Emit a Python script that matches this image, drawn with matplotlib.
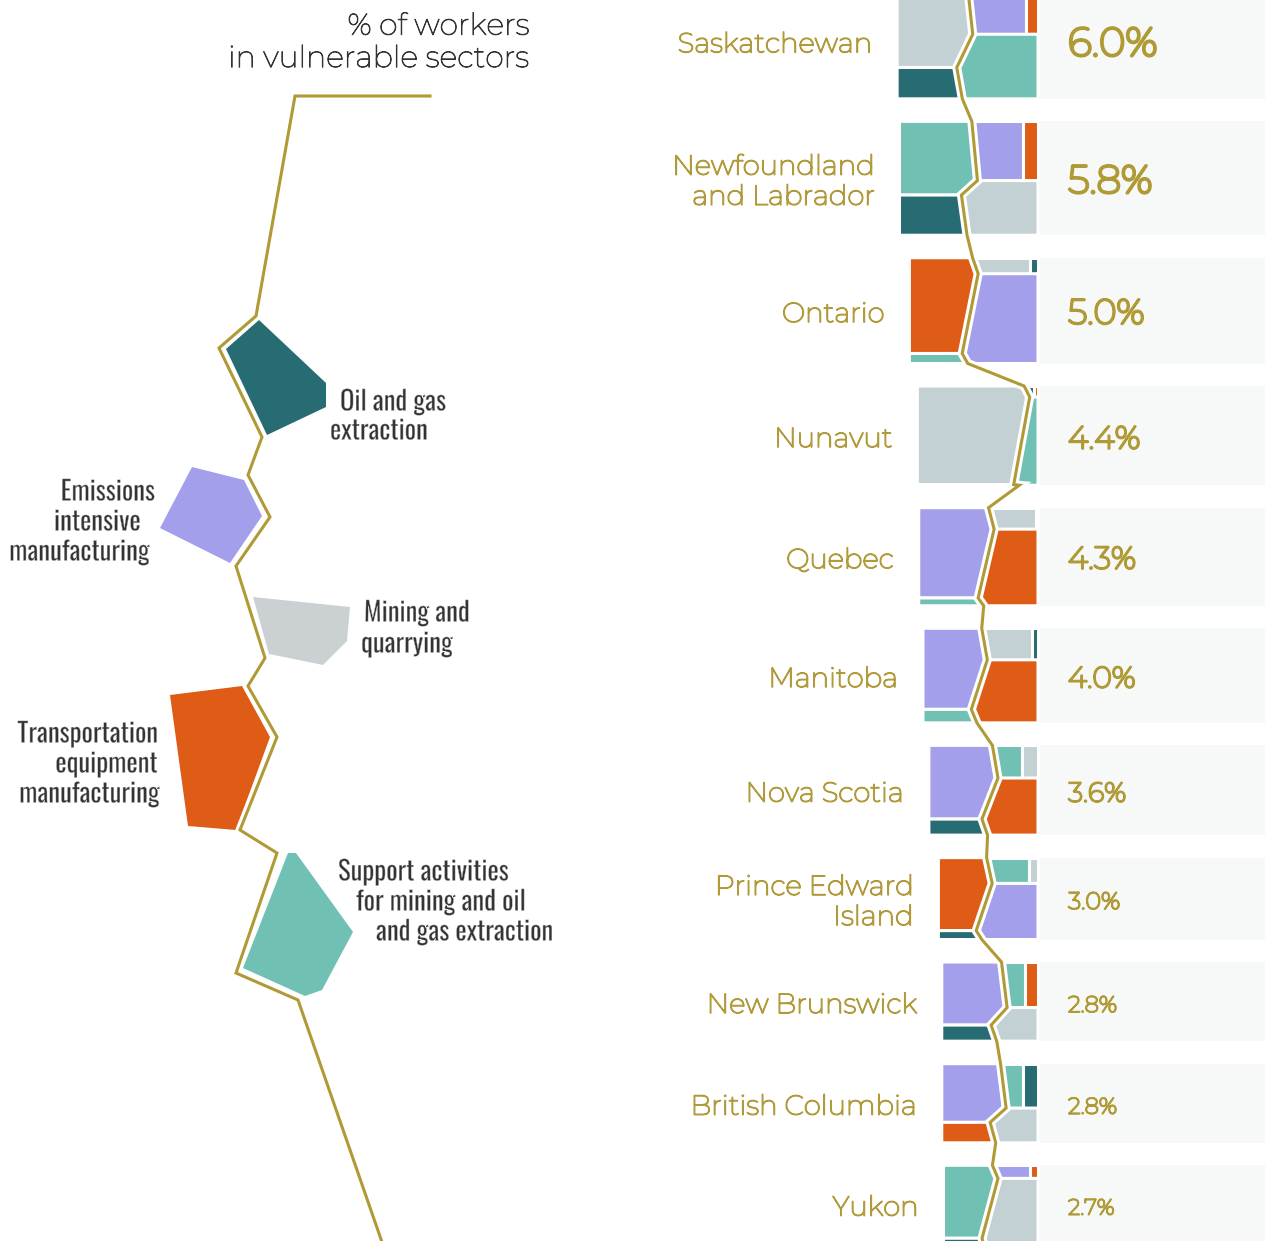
import numpy as np
import matplotlib
matplotlib.use('Agg')
import matplotlib.pyplot as plt
from matplotlib.patches import Polygon
from matplotlib import font_manager
from matplotlib.font_manager import FontProperties
import matplotlib.patheffects as pe

# ---- data -------------------------------------------------------------
provinces = ['Saskatchewan', 'Newfoundland\nand Labrador', 'Ontario', 'Nunavut', 'Quebec',
             'Manitoba', 'Nova Scotia', 'Prince Edward\nIsland', 'New Brunswick',
             'British Columbia', 'Yukon']
pct = [6.0, 5.8, 5.0, 4.4, 4.3, 4.0, 3.6, 3.0, 2.8, 2.8, 2.7]

sectors = ['oil', 'emissions', 'mining', 'transport', 'support']
sector_labels = ['Oil and gas\nextraction',
                 'Emissions\nintensive\nmanufacturing',
                 'Mining and\nquarrying',
                 'Transportation\nequipment\nmanufacturing',
                 'Support activities\nfor mining and oil\nand gas extraction']

# share of each province's vulnerable workers, by sector
oil_share = [0.13, 0.18, 0.01, 0.01, 0.005, 0.02, 0.10, 0.05, 0.12, 0.10, 0.03]
emissions_share = [0.19, 0.20, 0.45, 0.005, 0.52, 0.42, 0.46, 0.37, 0.47, 0.43, 0.07]
mining_share = [0.35, 0.24, 0.07, 0.86, 0.09, 0.15, 0.06, 0.03, 0.17, 0.18, 0.42]
transport_share = [0.04, 0.06, 0.43, 0.005, 0.34, 0.34, 0.28, 0.41, 0.09, 0.15, 0.015]
support_share = [0.29, 0.33, 0.045, 0.12, 0.045, 0.07, 0.10, 0.14, 0.14, 0.13, 0.46]

# order of the cells: left top, left bottom, right top a, right top b, right bottom
arrangement = [
    ['mining', 'oil', 'emissions', 'transport', 'support'],
    ['support', 'oil', 'emissions', 'transport', 'mining'],
    ['transport', 'support', 'mining', 'oil', 'emissions'],
    ['mining', 'emissions', 'oil', 'transport', 'support'],
    ['emissions', 'support', 'mining', 'oil', 'transport'],
    ['emissions', 'support', 'mining', 'oil', 'transport'],
    ['emissions', 'oil', 'support', 'mining', 'transport'],
    ['transport', 'oil', 'support', 'mining', 'emissions'],
    ['emissions', 'oil', 'support', 'transport', 'mining'],
    ['emissions', 'transport', 'support', 'oil', 'mining'],
    ['support', 'oil', 'emissions', 'transport', 'mining'],
]

shares = {'oil': oil_share, 'emissions': emissions_share, 'mining': mining_share,
          'transport': transport_share, 'support': support_share}

# ---- style ------------------------------------------------------------
colors = {'oil': '#276B73', 'emissions': '#A39FEA', 'mining': '#C3D1D4',
          'transport': '#DF5C17', 'support': '#70C1B3'}
legend_colors = dict(colors, mining='#CBD1D3')
gold = '#B09A36'
gold_text = '#B09A3A'
dark = '#333333'
bg_grey = '#F7F9F8'


def as_int_weight(w):
    if isinstance(w, (int, float)):
        return int(w)
    return font_manager.weight_dict.get(str(w).lower(), 400)


def pick_font(names, weight=400, condensed=False, fallback='DejaVu Sans'):
    best, best_score = None, None
    for f in font_manager.fontManager.ttflist:
        if f.style != 'normal':
            continue
        is_cond = 'condensed' in str(f.stretch) or 'narrow' in f.name.lower() \
            or 'condensed' in f.name.lower() or 'narrow' in f.fname.lower() \
            or 'condensed' in f.fname.lower()
        if f.name in names:
            rank = names.index(f.name)
        elif condensed and is_cond:
            rank = len(names)
        else:
            continue
        if not condensed and is_cond:
            continue
        score = (rank, abs(as_int_weight(f.weight) - weight))
        if best_score is None or score < best_score:
            best, best_score = f, score
    if best is None:
        return FontProperties(family=fallback, weight=weight)
    return FontProperties(fname=best.fname)


geo_font = pick_font(['Montserrat', 'Lato', 'Open Sans'], weight=400)
font_leg = pick_font(['Oswald', 'Roboto Condensed', 'Liberation Sans Narrow', 'Open Sans Condensed',
                      'Fira Sans Condensed', 'Barlow Condensed', 'PT Sans Narrow', 'Archivo Narrow'],
                     weight=300, condensed=True)


def thicken(lw, color):
    # the installed geometric face is very thin: widen its strokes
    return [pe.withStroke(linewidth=lw, foreground=color)]


fig = plt.figure(figsize=(12.65, 12.41), dpi=100)
ax = fig.add_axes([0, 0, 1, 1])
ax.set_xlim(0, 1265)
ax.set_ylim(1241, 0)
ax.axis('off')
renderer = fig.canvas.get_renderer()


def fit_size(text, fp, width_px):
    # font size (pt) at which text is width_px wide
    t = ax.text(0, 0, text, fontproperties=fp, fontsize=10)
    w = t.get_window_extent(renderer).width
    t.remove()
    return 10 * width_px / w


def gold_path(xs, ys, z=5):
    ax.plot(xs, ys, color='white', lw=6.5, solid_joinstyle='miter', zorder=z)
    ax.plot(xs, ys, color=gold, lw=2.2, solid_joinstyle='miter', zorder=z + 1)


# ---- right part: one block per province --------------------------------
x_right = 1038
area_per_pct = 2720.0
aspect = 1.216
gap = 22.5
bump = 8
y_top = -17

prov_size = fit_size('Saskatchewan', geo_font, 194)
pct_scale = fit_size('6.0%', geo_font, 90) / 6.0 ** 0.75

line_x, line_y = [], []
for i, prov in enumerate(provinces):
    area = area_per_pct * pct[i]
    W = np.sqrt(area * aspect)
    H = area / W
    x0, x1 = x_right - W, x_right
    yt, yb = y_top, y_top + H

    lt, lb, ra, rb, rbot = [shares[s][i] for s in arrangement[i]]
    tot = lt + lb + ra + rb + rbot
    left = (lt + lb) / tot
    xd = x0 + left * W
    y_l = yt + H * lt / (lt + lb)
    y_r = yt + H * (ra + rb) / (ra + rb + rbot)

    div_y = [yt, y_r, y_l, yb]
    div_x = [xd + 0.3 * bump, xd + bump, xd - bump, xd - 0.3 * bump]
    order = np.argsort(div_y)
    div_y = list(np.array(div_y)[order])
    div_x = list(np.array(div_x)[order])

    def xdiv(y):
        return np.interp(y, div_y, div_x)

    def strip(ya, yb_, side):
        inner = [(xdiv(y), y) for y in div_y if ya < y < yb_]
        top = (xdiv(ya), ya)
        bot = (xdiv(yb_), yb_)
        if side == 'left':
            return [(x0, ya), top] + inner + [bot, (x0, yb_)]
        return [top, (x1, ya), (x1, yb_), bot] + inner[::-1]

    cells = []
    cells.append((arrangement[i][0], strip(yt, y_l, 'left')))
    cells.append((arrangement[i][1], strip(y_l, yb, 'left')))
    xm = xdiv((yt + y_r) / 2)
    xs = xm + (x1 - xm) * ra / (ra + rb)
    cells.append((arrangement[i][2],
                  [(xdiv(yt), yt), (xs, yt), (xs, y_r), (xdiv(y_r), y_r)]
                  + [(xdiv(y), y) for y in div_y if yt < y < y_r][::-1]))
    cells.append((arrangement[i][3], [(xs, yt), (x1, yt), (x1, y_r), (xs, y_r)]))
    cells.append((arrangement[i][4], strip(y_r, yb, 'right')))

    for sec, pts in cells:
        ax.add_patch(Polygon(pts, closed=True, facecolor=colors[sec],
                             edgecolor='white', lw=2.2, joinstyle='miter', zorder=3))

    # grey band behind the value
    ax.add_patch(Polygon([(x1, yt), (1265, yt), (1265, yb), (x1, yb)],
                         closed=True, facecolor=bg_grey, edgecolor='none', zorder=1))

    yc = (yt + yb) / 2 + 4
    ax.text(x0 - 25, yc, prov, ha='right', va='center', multialignment='right',
            color=gold_text, fontproperties=geo_font, fontsize=prov_size,
            linespacing=1.15, zorder=4, path_effects=thicken(1.0, gold_text))
    fs = pct_scale * pct[i] ** 0.75
    ax.text(1068, yc, f'{pct[i]:.1f}%', ha='left', va='center', color=gold,
            fontproperties=geo_font, fontsize=fs, zorder=4,
            path_effects=thicken(fs * 0.075, gold))

    line_x += div_x
    line_y += div_y
    y_top = yb + gap

line_y[-1] = 1260
gold_path(line_x, line_y)

# ---- left part: legend ------------------------------------------------
title_size = fit_size('in vulnerable sectors', geo_font, 301)
ax.text(530, 43, '% of workers\nin vulnerable sectors', ha='right', va='center',
        multialignment='right', color=dark, fontproperties=geo_font,
        fontsize=title_size, linespacing=1.2, path_effects=thicken(0.6, dark))

legend_line_x = [430, 295, 256, 219, 262, 248, 270, 236, 265, 248, 277, 240, 277, 236, 298, 383]
legend_line_y = [96, 96, 316, 348, 437, 475, 517, 566, 658, 686, 737, 830, 853, 973, 1000, 1245]
gold_path(legend_line_x, legend_line_y)

legend_shapes = {
    'oil': [(226, 349), (259, 320), (326, 383), (326, 407), (267, 435)],
    'emissions': [(192, 467), (244, 480), (262, 516), (230, 563), (160, 528)],
    'mining': [(253, 597), (350, 607), (347, 641), (323, 665), (269, 654)],
    'transport': [(170, 695), (242, 686), (270, 737), (236, 830), (188, 826)],
    'support': [(288, 853), (296, 853), (353, 932), (322, 990), (305, 996), (243, 968)],
}
for sec, pts in legend_shapes.items():
    ax.add_patch(Polygon(pts, closed=True, facecolor=legend_colors[sec],
                         edgecolor='none', zorder=3))

# each label line placed next to its shape
label_lines = {
    'oil': [(340, 402, 'left'), (330, 431, 'left')],
    'emissions': [(155, 492, 'right'), (141, 522, 'right'), (150, 552, 'right')],
    'mining': [(364, 613, 'left'), (361, 644, 'left')],
    'transport': [(158, 734, 'right'), (158, 764, 'right'), (160, 794, 'right')],
    'support': [(338, 872, 'left'), (356, 902, 'left'), (376, 932, 'left')],
}
leg_size = fit_size('Support activities', font_leg, 171)
for sec, lab in zip(sectors, sector_labels):
    for (x, y, ha), txt in zip(label_lines[sec], lab.split('\n')):
        ax.text(x, y, txt, ha=ha, va='center', color=dark, fontproperties=font_leg,
                fontsize=leg_size, zorder=4,
                path_effects=[pe.Normal(), pe.Stroke(linewidth=0.3, foreground='white')])

fig.savefig('out.png', dpi=100, facecolor='white')
